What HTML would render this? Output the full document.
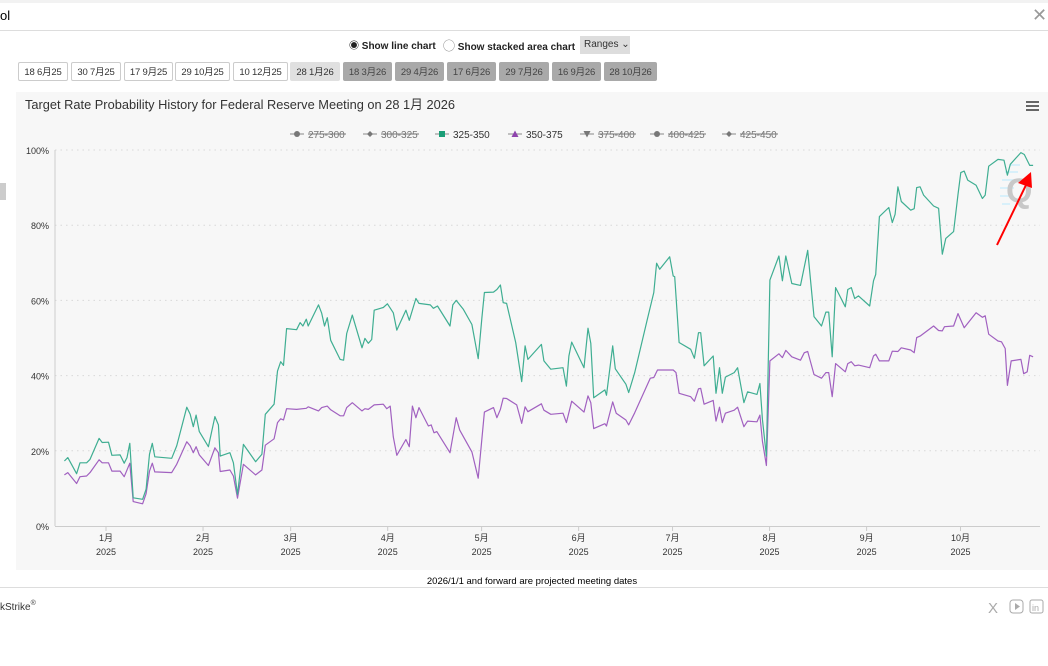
<!DOCTYPE html>
<html><head><meta charset="utf-8">
<style>
body{margin:0;width:1048px;height:666px;background:#fff;font-family:"Liberation Sans","Noto Sans CJK SC",sans-serif;position:relative;overflow:hidden;color:#000}
.abs{position:absolute}
.btn{position:absolute;top:62px;height:19px;border:1px solid #ccc;border-radius:2px;background:#fff;font-size:9.5px;line-height:19px;text-align:center;color:#333;box-sizing:border-box;letter-spacing:-0.2px}
.btn.sel{background:#e0e0e0;border-color:#e0e0e0}
.btn.dis{background:#a9a9a9;border-color:#a9a9a9;color:#444}
</style></head><body>
<div class="abs" style="left:0;top:0;width:1048px;height:3px;background:#f2f2f2"></div>
<div class="abs" style="left:0;top:8px;font-size:13px">ol</div>
<div class="abs" style="left:1032px;top:5px;font-size:18px;color:#999">&#x2715;</div>
<div class="abs" style="left:0;top:30px;width:1048px;height:1px;background:#ddd"></div>
<div class="abs" style="left:0;top:183px;width:6px;height:17px;background:#ccc"></div>

<div class="abs" style="left:349px;top:37px;font-size:10px;font-weight:bold;color:#222">&#9673; Show line chart</div>
<div class="abs" style="left:443px;top:37px;font-size:10px;font-weight:bold;color:#222"><span style="font-size:12px;font-weight:normal;color:#777">&#9711;</span> Show stacked area chart</div>
<div class="abs" style="left:580px;top:36px;width:50px;height:18px;background:#ddd;font-size:10px;line-height:18px;color:#333;padding-left:4px;box-sizing:border-box">Ranges &#8964;</div>

<div class="btn" style="left:18px;width:50px">18 6月25</div>
<div class="btn" style="left:71px;width:50px">30 7月25</div>
<div class="btn" style="left:124px;width:49px">17 9月25</div>
<div class="btn" style="left:175px;width:55px">29 10月25</div>
<div class="btn" style="left:233px;width:55px">10 12月25</div>
<div class="btn sel" style="left:290px;width:50px">28 1月26</div>
<div class="btn dis" style="left:343px;width:49px">18 3月26</div>
<div class="btn dis" style="left:395px;width:49px">29 4月26</div>
<div class="btn dis" style="left:447px;width:49px">17 6月26</div>
<div class="btn dis" style="left:499px;width:50px">29 7月26</div>
<div class="btn dis" style="left:552px;width:49px">16 9月26</div>
<div class="btn dis" style="left:604px;width:53px">28 10月26</div>

<svg class="abs" style="left:0;top:0" width="1048" height="666">
<rect x="16" y="92" width="1032" height="478" fill="#f7f7f7"/>
<text x="25" y="109" font-size="13" fill="#333" textLength="430" lengthAdjust="spacingAndGlyphs">Target Rate Probability History for Federal Reserve Meeting on 28 1月 2026</text>
<g fill="#666"><rect x="1026" y="101" width="13" height="2"/><rect x="1026" y="105" width="13" height="2"/><rect x="1026" y="109" width="13" height="2"/></g>
<g id="legend"></g>
<g id="grid"></g>
<g id="axes"></g>
<g>
<g stroke="#cdeefa" stroke-width="1.5">
<line x1="1010" y1="165" x2="1020" y2="165"/><line x1="1005" y1="172" x2="1018" y2="172"/><line x1="1002" y1="180" x2="1016" y2="180"/><line x1="1000" y1="188" x2="1014" y2="188"/><line x1="1000" y1="196" x2="1012" y2="196"/><line x1="1002" y1="204" x2="1010" y2="204"/>
</g>
<text x="1006" y="202" font-size="34" font-weight="bold" fill="#c8c8c8">Q</text>
</g>
<g id="series"></g>
<g>
<line x1="997" y1="245" x2="1026" y2="185" stroke="#f00" stroke-width="2"/>
<polygon points="1031,172 1018,183 1032,188" fill="#f00"/>
</g>
<text x="532" y="584" font-size="9.5" text-anchor="middle" fill="#000">2026/1/1 and forward are projected meeting dates</text>
<rect x="0" y="587" width="1048" height="1" fill="#ddd"/>
<text x="0" y="610" font-size="10" fill="#333">kStrike<tspan font-size="7" dy="-5">®</tspan></text>
<g fill="none" stroke="#aaa">
<text x="988" y="613" font-size="15" fill="#aaa" stroke="none">X</text>
<rect x="1010" y="600" width="13" height="13" rx="3"/><polygon points="1015,603 1015,610 1020,606.5" fill="#aaa" stroke="none"/>
<rect x="1030" y="600" width="13" height="13" rx="2"/><text x="1032" y="611" font-size="9" fill="#aaa" stroke="none">in</text>
</g>
</svg>
<script>
const yTicks=[0,20,40,60,80,100];
const monthLabels=['1月','2月','3月','4月','5月','6月','7月','8月','9月','10月'];
const monthDays=[0,31,59,90,120,151,181,212,243,273];
const legendNames=['275-300','300-325','325-350','350-375','375-400','400-425','425-450'];
const legendVisible=[false,false,true,true,false,false,false];
const days325=[-13.3,-12.2,-9.4,-8.3,-6.2,-5.1,-2.2,-1.2,0.8,1.9,4.5,5.8,6.7,7.6,8.7,11.7,12.8,13.9,14.8,15.6,21.0,22.6,25.8,26.9,27.9,28.8,29.8,32.7,34.8,35.9,36.5,39.6,40.7,42.0,43.9,47.8,49.8,50.9,53.7,54.8,55.8,56.7,57.7,60.9,62.0,62.9,64.0,64.6,67.9,68.9,69.8,70.7,71.8,74.8,75.9,76.9,78.7,81.8,82.7,83.8,84.9,85.7,88.6,89.9,91.8,92.9,95.8,96.9,99.0,100.0,103.6,104.6,105.9,109.9,110.8,111.9,114.2,116.9,118.9,120.1,120.9,123.8,124.9,126.0,126.9,128.0,130.9,132.8,133.9,134.8,139.1,139.9,142.1,146.0,147.1,147.9,148.8,152.7,154.0,154.9,155.8,159.4,159.9,161.9,162.7,166.1,167.0,168.9,172.8,175.0,175.9,176.9,180.1,181.2,181.7,183.1,186.8,188.0,189.3,190.0,191.1,194.0,194.9,196.0,196.9,197.9,200.7,201.8,203.8,205.0,208.0,208.9,209.7,211.0,212.1,215.0,216.1,217.2,219.1,221.9,224.2,226.2,228.6,230.0,230.9,232.0,233.1,236.2,237.0,238.1,239.2,240.4,244.0,245.2,245.9,247.1,250.1,251.2,252.1,253.0,254.1,257.1,258.2,259.0,260.1,261.2,264.4,266.0,267.2,268.3,270.8,272.2,273.1,274.2,275.3,278.0,280.0,280.9,282.0,285.0,286.9,288.0,288.9,292.3,293.4,295.1,296.2];
const vals325=[17.3,18.2,13.9,16.8,16.8,17.7,23.3,22.2,22.3,18.8,18.9,16.7,18.2,22.0,7.5,7.1,9.8,19.1,22.0,18.4,18.0,21.3,31.6,29.7,26.4,29.5,25.1,21.1,29.1,26.9,18.6,19.5,16.8,8.4,21.7,17.1,19.1,29.7,32.4,41.2,43.7,42.7,52.5,52.2,54.1,53.2,55.0,53.2,58.8,56.6,53.2,55.4,49.4,44.3,44.1,51.2,56.1,47.4,49.9,48.6,49.6,57.4,58.1,59.1,56.7,52.1,57.4,54.7,60.5,59.2,58.8,57.9,58.5,53.2,58.8,60.0,57.6,53.6,44.5,55.4,62.1,62.2,62.9,64.1,59.4,59.2,48.8,38.4,47.9,44.3,48.3,43.9,41.7,42.1,37.2,45.2,48.9,42.1,52.6,48.6,34.1,36.2,34.8,47.9,41.8,37.7,35.5,40.8,54.5,62.1,69.9,68.3,71.6,66.5,66.3,48.8,47.0,44.6,51.4,51.4,42.6,45.2,35.3,42.1,35.3,39.6,40.8,42.1,32.8,35.7,35.0,37.9,28.4,18.6,65.4,71.8,65.2,71.8,64.5,64.0,73.3,55.7,53.2,56.9,56.9,45.0,63.4,58.3,62.9,63.4,60.5,61.2,58.5,65.2,66.9,82.3,84.7,80.7,82.9,90.2,86.3,84.0,84.4,90.0,90.2,88.0,85.1,84.5,72.3,76.5,78.3,88.2,94.0,94.4,92.0,90.6,87.1,88.0,95.7,97.5,97.3,93.3,96.2,99.3,98.8,95.9,95.9];
const days350=[-13.3,-12.2,-9.4,-8.3,-6.2,-5.1,-2.2,-1.2,0.8,1.9,4.5,5.8,7.6,8.7,11.7,12.8,13.9,14.8,15.6,21.0,22.6,25.8,26.9,27.9,28.8,29.8,32.7,34.8,35.9,36.5,39.6,40.7,42.0,43.9,47.8,49.8,50.9,53.7,54.8,55.8,56.7,57.7,60.9,64.0,64.6,67.9,68.9,69.8,70.7,71.8,74.8,75.9,76.9,78.7,81.8,82.7,83.8,85.7,88.6,89.7,90.8,91.8,92.9,95.8,96.9,97.9,99.0,100.0,103.0,103.9,104.8,105.7,109.9,111.9,113.0,116.9,118.9,120.9,123.8,124.9,126.0,126.9,128.0,131.2,132.8,133.9,134.8,139.1,139.9,142.1,146.0,147.1,148.8,152.7,154.0,154.9,155.8,159.4,159.9,161.9,163.0,166.1,167.0,168.9,173.9,175.0,176.2,181.2,182.1,183.1,186.8,188.0,189.3,190.0,191.1,194.0,194.9,196.0,196.9,197.9,200.7,201.8,203.8,205.0,208.0,208.9,209.7,211.0,212.1,215.0,216.1,217.2,219.1,221.9,223.1,224.2,226.2,228.6,230.0,230.9,232.0,233.1,236.2,237.0,238.1,239.2,240.4,244.0,245.2,245.9,247.1,250.1,251.2,253.0,254.1,257.1,258.2,259.0,260.1,264.4,266.0,267.2,267.9,270.8,272.2,274.2,278.0,280.0,280.9,282.0,285.0,286.1,287.3,288.0,289.2,292.3,293.2,294.3,295.1,296.2];
const vals350=[13.6,14.2,11.3,13.1,13.3,14.2,17.6,16.8,16.8,14.6,14.6,13.1,16.7,6.5,5.9,8.6,14.6,16.7,14.4,14.2,16.4,22.4,21.3,19.5,21.1,18.9,16.1,20.8,19.5,14.5,14.9,13.3,7.4,16.4,13.6,14.9,21.5,23.2,27.5,28.5,28.2,31.2,31.0,31.3,31.7,30.6,31.5,31.7,31.9,30.9,29.3,29.3,31.5,32.8,30.6,31.2,31.0,32.2,32.4,31.2,31.9,23.7,18.8,23.0,21.1,31.9,28.8,31.5,26.6,26.9,24.8,25.1,19.5,28.8,25.5,19.7,12.7,30.3,31.5,28.8,31.0,34.0,33.9,32.2,27.3,31.7,30.4,32.5,30.8,29.7,30.0,27.5,33.2,30.3,34.6,32.8,25.9,27.2,26.6,33.0,30.0,28.2,26.9,30.1,39.3,39.5,41.5,41.5,40.8,35.3,34.4,33.2,36.5,36.6,32.4,33.4,27.9,31.6,27.5,30.0,30.8,31.6,26.4,27.9,27.7,29.5,22.6,16.1,43.9,45.8,44.8,46.7,45.0,44.1,46.1,46.4,40.3,39.3,40.8,40.8,34.4,43.2,41.0,43.2,43.7,42.6,42.8,42.1,45.2,45.7,43.9,43.9,46.5,46.4,47.4,46.8,46.1,50.1,50.5,53.2,52.0,51.9,53.0,53.2,56.5,52.7,56.7,55.5,55.9,51.0,49.2,49.0,47.2,37.4,43.9,44.3,40.5,41.0,45.4,45.0];

const NS='http://www.w3.org/2000/svg';
const X0=106,PXD=3.13,Y0=526,Y1=150,PL=55,PR=1040;
function xs(d){return X0+d*PXD;}
function ys(v){return Y0-(v/100)*(Y0-Y1);}
function mk(tag,attrs,parent){const e=document.createElementNS(NS,tag);for(const k in attrs)e.setAttribute(k,attrs[k]);parent.appendChild(e);return e;}
const grid=document.getElementById('grid'),axes=document.getElementById('axes'),ser=document.getElementById('series'),leg=document.getElementById('legend');
yTicks.forEach(t=>{
  if(t>0){const g=mk('line',{x1:PL,x2:PR,y1:ys(t),y2:ys(t),stroke:'#d8d8d8','stroke-dasharray':'1.5,4'},grid);
  
  }
  const l=mk('text',{x:49,y:ys(t)+4,'font-size':9,'text-anchor':'end',fill:'#333'},axes);
  l.textContent=t+'%';
  
  
});
const ya=mk('line',{x1:PL,x2:PL,y1:Y1,y2:Y0,stroke:'#ccc','stroke-width':1},axes);


const xa=mk('line',{x1:PL,x2:PR,y1:Y0+0.5,y2:Y0+0.5,stroke:'#ccc','stroke-width':1},axes);


monthLabels.forEach((m,i)=>{
  const x=xs(monthDays[i]);
  mk('line',{x1:x,x2:x,y1:Y0,y2:Y0+5,stroke:'#ccc'},axes);
  const t=mk('text',{x:x,y:Y0+15,'font-size':9,'text-anchor':'middle',fill:'#333'},axes);
  t.textContent=m;
  
  
  const t2=mk('text',{x:x,y:Y0+29,'font-size':9,'text-anchor':'middle',fill:'#333'},axes);
  t2.textContent='2025';
  
  
});
function line(days,vals,color,name){
  const p=mk('polyline',{points:days.map((d,i)=>xs(d).toFixed(1)+','+ys(vals[i]).toFixed(1)).join(' '),fill:'none',stroke:color,'stroke-width':1.2,'stroke-linejoin':'round'},ser);
  
  
}
line(days350,vals350,'#a161c0','series-350-375');
line(days325,vals325,'#3fae92','series-325-350');
const legX=[290,363,435,508,580,650,722];
const legColors=['#666','#666','#1a9e77','#8e44ad','#666','#666','#666'];
const legMarks=['circle','diamond','square','tri','tridown','circle','diamond'];
legendNames.forEach((n,i)=>{
  const g=mk('g',{},leg);
  
  
  const x=legX[i],y=134,c=legendVisible[i]?legColors[i]:'#777';
  mk('line',{x1:x,x2:x+14,y1:y,y2:y,stroke:'#888','stroke-width':1},g);
  const cx=x+7;
  if(legMarks[i]==='circle')mk('circle',{cx:cx,cy:y,r:3,fill:c},g);
  else if(legMarks[i]==='diamond')mk('polygon',{points:`${cx},${y-3} ${cx+3},${y} ${cx},${y+3} ${cx-3},${y}`,fill:c},g);
  else if(legMarks[i]==='square')mk('rect',{x:cx-3,y:y-3,width:6,height:6,fill:c},g);
  else if(legMarks[i]==='tri')mk('polygon',{points:`${cx},${y-3.5} ${cx+3.5},${y+3} ${cx-3.5},${y+3}`,fill:c},g);
  else mk('polygon',{points:`${cx},${y+3.5} ${cx+3.5},${y-3} ${cx-3.5},${y-3}`,fill:c},g);
  const t=mk('text',{x:x+18,y:y+4,'font-size':10,fill:legendVisible[i]?'#333':'#777'},g);
  t.textContent=n;
  if(!legendVisible[i])mk('line',{x1:x+18,x2:x+56,y1:y,y2:y,stroke:'#777'},g);
});
</script>
</body></html>
